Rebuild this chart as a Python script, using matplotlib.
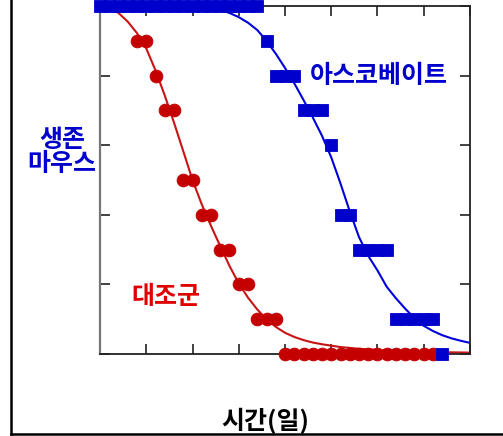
import matplotlib
matplotlib.use("Agg")
import matplotlib.pyplot as plt
from matplotlib.lines import Line2D

plt.rcParams['font.family'] = ['Noto Sans CJK KR', 'DejaVu Sans']

# Survival (%) of each group over time (tick units)
control_x = [0.8, 1.0, 1.2, 1.4, 1.6, 1.8, 2.0, 2.2, 2.4, 2.6, 2.8, 3.0, 3.2,
             3.4, 3.6, 3.8,
             4.0, 4.2, 4.4, 4.6, 4.8, 5.0, 5.2, 5.4, 5.6, 5.8, 6.0, 6.2, 6.4,
             6.6, 6.8, 7.0, 7.2]
control_y = [90, 90, 80, 70, 70, 50, 50, 40, 40, 30, 30, 20, 20,
             10, 10, 10,
             0, 0, 0, 0, 0, 0, 0, 0, 0, 0, 0, 0, 0,
             0, 0, 0, 0]

asc_x = [0.0, 0.2, 0.4, 0.6, 0.8, 1.0, 1.2, 1.4, 1.6, 1.8, 2.0, 2.2, 2.4, 2.6,
         2.8, 3.0, 3.2, 3.4,
         3.6, 3.8, 4.0, 4.2, 4.4, 4.6, 4.8, 5.0, 5.2, 5.4,
         5.6, 5.8, 6.0, 6.2, 6.4, 6.6, 6.8, 7.0, 7.2, 7.4]
asc_y = [100] * 18 + [90, 80, 80, 80, 70, 70, 70, 60, 40, 40,
                      30, 30, 30, 30, 10, 10, 10, 10, 10, 0]

# Fitted survival curves
control_fit_x = [0.0, 0.2, 0.4, 0.6, 0.8, 1.0, 1.2, 1.4, 1.6, 1.8, 2.0, 2.2,
                 2.4, 2.6, 2.8, 3.0, 3.2, 3.4, 3.6, 3.8, 4.0, 4.2, 4.4, 4.6,
                 4.8, 5.2, 5.6, 6.0, 6.5, 7.0, 7.5, 8.0]
control_fit_y = [100, 99.6, 98.0, 95.5, 92.2, 87.8, 81.5, 74.3, 66.5, 58.3,
                 50.0, 43.0, 36.8, 31.0, 25.3, 20.3, 16.2, 12.8, 10.0, 7.8,
                 6.1, 4.9, 4.0, 3.3, 2.8, 2.0, 1.5, 1.15, 0.85, 0.65, 0.5, 0.4]

asc_fit_x = [0.0, 1.0, 2.0, 2.4, 2.6, 2.8, 3.0, 3.2, 3.4, 3.6, 3.8, 4.0, 4.2,
             4.4, 4.6, 4.8, 5.0, 5.2, 5.4, 5.6, 5.8, 6.0, 6.2, 6.4, 6.6, 6.8,
             7.0, 7.2, 7.4, 7.6, 7.8, 8.0]
asc_fit_y = [100, 100, 99.9, 99.5, 98.9, 98.0, 96.8, 95.2, 93.1, 90.0, 86.3,
             82.2, 77.8, 73.0, 68.0, 62.7, 56.5, 49.0, 41.0, 33.6, 28.2, 24.0,
             19.3, 16.0, 13.0, 10.3, 8.1, 6.6, 5.4, 4.5, 3.8, 3.2]

x_ticks = [0, 1, 2, 3, 4, 5, 6, 7, 8]
y_ticks = [0, 20, 40, 60, 80, 100]

RED = '#c40000'
BLUE = '#0000cc'

fig = plt.figure(figsize=(5.03, 4.36), dpi=100)
ax = fig.add_axes([100 / 503, 1 - 354 / 436, 370 / 503, 348 / 436])

ax.plot(control_fit_x, control_fit_y, color='#c81414', lw=1.5, zorder=2)
ax.plot(asc_fit_x, asc_fit_y, color='#0000dd', lw=1.5, zorder=2)
ax.plot(control_x, control_y, 'o', color=RED, ms=9.2, mec=RED, mew=0.6,
        clip_on=False, zorder=3)
ax.plot(asc_x, asc_y, 's', color=BLUE, ms=8.6, mec=BLUE, mew=0.6,
        clip_on=False, zorder=4)

ax.set_xlim(0, 8)
ax.set_ylim(0, 100)
ax.set_xticks(x_ticks)
ax.set_yticks(y_ticks)
ax.tick_params(direction='in', length=7, width=1.3, color='#333333',
               top=True, right=True, labelbottom=False, labelleft=False)
for side in ['top', 'right', 'bottom']:
    ax.spines[side].set_color('#222222')
    ax.spines[side].set_linewidth(1.3)
ax.spines['left'].set_color('#777777')
ax.spines['left'].set_linewidth(1.6)

ax.text(6.02, 80, '아스코베이트', color=BLUE, fontsize=18, fontweight='bold',
        ha='center', va='center')
ax.text(1.43, 16.4, '대조군', color='#e00000', fontsize=18, fontweight='bold',
        ha='center', va='center')

fig.text(62 / 503, 1 - 152 / 436, '생존\n마우스', color=BLUE, fontsize=18,
         fontweight='bold', ha='center', va='center', linespacing=1.05)
fig.text(265 / 503, 1.5 / 436, '시간(일)', color='black', fontsize=18,
         fontweight='bold', ha='center', va='bottom')

# Outer frame lines
fig.add_artist(Line2D([11 / 503, 11 / 503], [1 - 434 / 436, 1.0],
                      transform=fig.transFigure, color='black', lw=1.8))
fig.add_artist(Line2D([11 / 503, 1.0], [1 - 434 / 436, 1 - 434 / 436],
                      transform=fig.transFigure, color='black', lw=1.8))

fig.savefig('out.png', dpi=100)
